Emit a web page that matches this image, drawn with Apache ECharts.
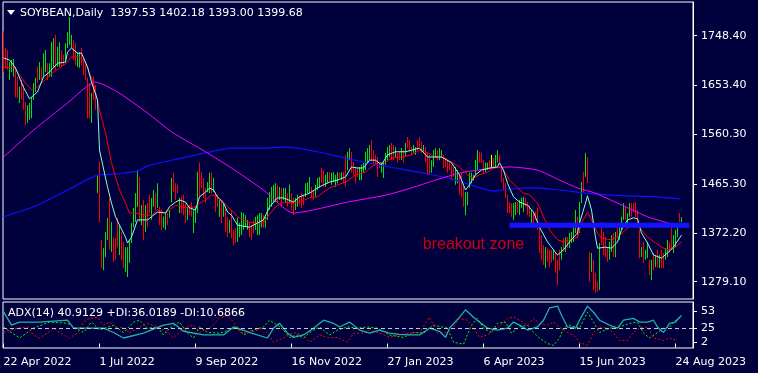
<!DOCTYPE html>
<html><head><meta charset="utf-8">
<script src="https://cdn.jsdelivr.net/npm/echarts@6/dist/echarts.min.js"></script>
<style>html,body{margin:0;padding:0;background:#00003c;}#c{width:758px;height:373px;}</style>
</head><body><div id="c"></div>
<script>
// ---- DATA ----
const barHigh = [
1757,1725,1721,1698,1702,1704,1689,1670,1651,1664,
1654,1622,1616,1620,1631,1658,1668,1689,1698,1689,
1715,1721,1696,1696,1736,1744,1750,1727,1736,1721,
1712,1734,1755,1784,1750,1740,1734,1717,1717,1725,
1706,1696,1668,1658,1639,1670,1654,1483,1509,1359,
1343,1374,1401,1439,1393,1364,1362,1401,1387,1374,
1355,1345,1345,1359,1391,1420,1448,1492,1479,1425,
1435,1425,1429,1445,1439,1454,1448,1467,1422,1416,
1403,1412,1410,1416,1477,1487,1467,1464,1439,1441,
1445,1429,1422,1425,1431,1416,1422,1488,1507,1488,
1477,1458,1469,1487,1488,1477,1450,1445,1435,1435,
1429,1422,1403,1397,1416,1378,1382,1401,1391,1412,
1410,1406,1397,1391,1387,1397,1403,1406,1410,1410,
1406,1403,1439,1450,1460,1464,1467,1464,1460,1458,
1458,1458,1448,1464,1448,1439,1439,1445,1441,1448,
1445,1467,1469,1479,1460,1454,1464,1477,1479,1496,
1492,1483,1488,1488,1487,1488,1483,1488,1487,1488,
1488,1521,1527,1534,1527,1507,1498,1498,1498,1502,
1506,1527,1534,1540,1549,1530,1521,1517,1507,1506,
1507,1525,1536,1540,1544,1540,1536,1525,1527,1534,
1530,1544,1555,1549,1536,1540,1536,1549,1555,1546,
1540,1536,1525,1521,1511,1530,1534,1530,1534,1530,
1521,1515,1511,1507,1502,1498,1498,1492,1483,1487,
1464,1450,1450,1487,1487,1483,1511,1530,1527,1525,
1511,1506,1506,1511,1521,1515,1521,1530,1521,1498,
1477,1467,1445,1431,1429,1429,1431,1431,1435,1439,
1441,1439,1431,1425,1416,1410,1412,1420,1387,1368,
1349,1345,1343,1340,1340,1340,1334,1321,1340,1345,
1362,1364,1364,1372,1374,1391,1416,1403,1431,1469,
1488,1525,1517,1336,1334,1321,1296,1279,1353,1393,
1374,1364,1345,1355,1368,1372,1374,1391,1391,1403,
1429,1422,1410,1429,1429,1429,1431,1416,1378,1345,
1355,1340,1355,1321,1321,1334,1330,1340,1330,1340,
1334,1343,1359,1355,1383,1368,1378,1391,1410,1402
];
const barLow = [
1679,1689,1683,1664,1679,1670,1631,1630,1620,1626,
1607,1578,1582,1588,1591,1626,1641,1658,1664,1664,
1670,1679,1664,1670,1670,1689,1683,1689,1689,1689,
1692,1698,1725,1731,1725,1702,1692,1689,1687,1692,
1673,1664,1591,1591,1582,1626,1607,1448,1393,1305,
1301,1326,1359,1340,1336,1317,1321,1345,1330,1321,
1305,1298,1288,1315,1353,1383,1393,1422,1393,1387,
1359,1374,1383,1410,1397,1422,1416,1420,1387,1378,
1382,1378,1387,1401,1431,1450,1435,1448,1410,1410,
1406,1391,1397,1406,1403,1372,1391,1410,1441,1458,
1439,1429,1450,1448,1448,1450,1412,1422,1403,1391,
1403,1374,1364,1372,1362,1349,1353,1355,1364,1368,
1378,1383,1378,1364,1359,1372,1378,1368,1368,1383,
1382,1382,1397,1416,1422,1429,1431,1429,1435,1422,
1435,1429,1422,1429,1416,1406,1416,1422,1425,1420,
1425,1441,1448,1448,1439,1435,1441,1454,1458,1467,
1460,1460,1467,1469,1464,1469,1460,1467,1477,1473,
1467,1460,1492,1511,1487,1483,1467,1479,1473,1473,
1487,1492,1506,1511,1511,1502,1502,1479,1496,1487,
1477,1502,1511,1517,1511,1511,1517,1507,1511,1511,
1506,1517,1534,1527,1521,1525,1521,1530,1536,1525,
1527,1507,1483,1483,1487,1498,1515,1511,1511,1517,
1496,1498,1487,1492,1473,1479,1464,1467,1445,1441,
1422,1406,1425,1458,1467,1473,1483,1492,1506,1506,
1487,1488,1492,1496,1498,1496,1496,1507,1506,1469,
1454,1439,1410,1410,1403,1397,1406,1410,1406,1420,
1412,1422,1406,1403,1383,1383,1397,1378,1334,1321,
1311,1305,1317,1307,1315,1321,1296,1273,1301,1321,
1336,1336,1343,1343,1353,1355,1372,1362,1372,1429,
1450,1479,1467,1279,1298,1263,1258,1260,1263,1349,
1330,1326,1317,1321,1336,1326,1326,1364,1359,1378,
1397,1397,1387,1403,1403,1412,1403,1383,1324,1326,
1315,1321,1324,1292,1282,1301,1307,1307,1305,1305,
1305,1321,1326,1334,1340,1334,1345,1364,1393,1393
];
// r = down bar, g = up bar, y = unchanged
const barDir = (
"rrrgggrrgr"+"rrgggggrgr"+"ggrgggrggr"+"rggggrrggr"+"rrrrgrrgrr"+
"gggrgrrrgr"+"rgggggggrg"+"rgrrggrgrr"+"ggrggrrrgr"+"rrgrrgggrr"+
"rrggrgrrgr"+"grrgrrrggg"+"gggrrrgggg"+"rggggggrgr"+"ggrgrrggrr"+
"rgggrrgggr"+"rggrggggrg"+"rrggrrrrgg"+"ggggrrrrrg"+"ggggrrgrrg"+
"rgrrrggrrr"+"grrrgggrgg"+"rrrrrrggrr"+"rgggggggrr"+"rggryrggrr"+
"rrrrrggrgg"+"grrrgrrrrr"+"rgrrrgrrrg"+"rgrggggrgg"+"rgrrgrrrgr"+
"rrrggrgrgg"+"grggrrrrrg"+"rggrgrgrgr"+"rggrrgggrg").split("");

const maFast = [[0,1706],[3,1702],[6,1687],[10,1650],[13,1628],[17,1641],[20,1670],[23,1679],[27,1696],[31,1698],[32,1717],[34,1725],[37,1715],[39,1715],[42,1689],[44,1660],[47,1626],[48,1530],[52,1460],[54,1429],[56,1403],[58,1387],[61,1364],[62,1353],[64,1364],[67,1397],[69,1397],[72,1397],[74,1403],[77,1412],[81,1410],[83,1422],[86,1431],[88,1435],[91,1431],[93,1420],[96,1416],[98,1441],[101,1450],[103,1458],[105,1454],[107,1441],[110,1429],[112,1412],[114,1406],[117,1387],[123,1383],[127,1391],[130,1397],[133,1422],[137,1439],[140,1439],[145,1431],[148,1441],[153,1448],[157,1458],[160,1464],[163,1469],[167,1473],[171,1479],[174,1498],[177,1496],[180,1496],[183,1511],[186,1511],[189,1502],[192,1521],[196,1527],[201,1527],[204,1530],[208,1534],[212,1517],[216,1517],[219,1517],[224,1506],[228,1483],[231,1454],[233,1464],[236,1483],[239,1492],[243,1496],[247,1498],[248,1506],[250,1492],[252,1467],[255,1441],[258,1431],[262,1425],[265,1412],[268,1383],[272,1355],[275,1340],[277,1330],[280,1340],[283,1355],[287,1372],[288,1391],[291,1429],[292,1443],[294,1416],[296,1364],[297,1343],[301,1345],[304,1343],[307,1355],[309,1378],[312,1397],[315,1401],[317,1399],[319,1372],[322,1353],[325,1330],[329,1324],[332,1334],[335,1345],[339,1368]];
const maSlow = [[0,1687],[5,1689],[7,1679],[11,1658],[14,1645],[17,1651],[22,1668],[25,1679],[29,1689],[32,1698],[34,1708],[38,1708],[41,1696],[43,1677],[45,1658],[48,1607],[51,1563],[54,1506],[56,1479],[58,1454],[61,1429],[63,1410],[66,1410],[67,1412],[71,1406],[74,1406],[77,1416],[81,1410],[83,1416],[86,1425],[89,1422],[92,1420],[96,1422],[98,1429],[101,1435],[104,1445],[106,1443],[109,1435],[112,1422],[114,1416],[117,1403],[122,1393],[127,1391],[130,1391],[132,1403],[136,1422],[140,1431],[145,1429],[148,1431],[153,1439],[157,1441],[160,1450],[163,1458],[167,1464],[171,1469],[176,1483],[181,1488],[184,1498],[187,1506],[191,1507],[194,1515],[199,1517],[204,1521],[208,1530],[212,1525],[216,1517],[221,1515],[224,1507],[228,1498],[232,1483],[235,1477],[238,1483],[242,1488],[245,1496],[248,1498],[251,1487],[253,1473],[257,1458],[260,1448],[263,1445],[267,1429],[270,1403],[273,1378],[277,1359],[280,1355],[283,1359],[287,1364],[289,1391],[292,1412],[294,1397],[297,1372],[299,1362],[304,1359],[307,1364],[311,1378],[314,1387],[317,1387],[319,1378],[322,1364],[326,1353],[329,1345],[332,1340],[336,1345],[339,1355]];
const maMid = [[0,1517],[15,1568],[32,1620],[46,1660],[57,1641],[72,1601],[84,1565],[101,1527],[114,1496],[130,1454],[145,1410],[155,1416],[172,1431],[191,1444],[204,1458],[216,1473],[229,1487],[245,1496],[253,1498],[267,1492],[278,1473],[287,1458],[296,1448],[311,1422],[322,1403],[334,1389],[339,1383]];
const maLong = [[0,1403],[15,1422],[32,1454],[46,1481],[57,1485],[67,1490],[72,1500],[89,1515],[101,1525],[114,1534],[130,1534],[139,1536],[147,1534],[157,1527],[172,1514],[187,1502],[196,1496],[212,1485],[226,1473],[245,1452],[253,1456],[265,1458],[278,1454],[287,1450],[296,1446],[311,1443],[327,1441],[338,1437]];

const zoneLevel = 1386.7, zoneFrom = 253, zoneTo = 343;
const zoneNote = {text: "breakout zone", x: 235, price: 1350};
const lastClose = 1399.68;
const priceTicks = [1279.10, 1372.20, 1465.30, 1560.30, 1653.40, 1748.40];

const adxLine = [[0,52],[4,30],[8,35],[18,35],[32,38],[35,25],[50,25],[55,18],[60,9],[70,17],[80,30],[85,33],[90,20],[100,14],[110,14],[115,27],[124,17],[132,9],[135,25],[138,33],[142,17],[145,10],[150,14],[155,25],[160,38],[165,33],[168,27],[173,35],[178,22],[183,17],[188,22],[193,17],[198,15],[203,14],[208,14],[213,25],[218,20],[221,10],[223,25],[228,43],[231,55],[235,43],[238,35],[242,25],[247,22],[252,25],[255,35],[258,30],[262,22],[267,27],[270,38],[273,58],[277,61],[279,46],[282,27],[286,25],[288,38],[292,61],[295,51],[298,38],[303,30],[307,25],[310,38],[315,41],[318,35],[322,35],[325,38],[327,27],[330,18],[333,33],[336,35],[339,46]];
const plusDI = [[0,27],[8,9],[15,25],[23,35],[32,33],[40,18],[44,35],[48,22],[55,30],[60,18],[65,35],[68,38],[72,25],[77,27],[80,14],[83,25],[88,35],[92,17],[95,9],[98,27],[102,18],[108,17],[113,22],[117,27],[120,14],[125,22],[130,27],[133,38],[137,30],[140,22],[143,10],[147,14],[150,9],[153,18],[158,27],[163,14],[167,22],[172,27],[177,25],[182,27],[187,25],[193,14],[200,10],[205,18],[210,17],[215,30],[222,25],[225,2],[230,-1],[234,30],[237,41],[240,25],[244,18],[247,33],[251,35],[254,17],[258,27],[262,30],[265,18],[268,9],[272,0],[275,-3],[278,9],[280,25],[283,30],[288,25],[292,51],[295,35],[298,18],[303,25],[308,27],[313,33],[317,35],[320,17],[323,9],[327,18],[330,25],[333,27],[337,41],[339,44]];
const minusDI = [[0,18],[7,25],[12,27],[15,14],[18,9],[22,17],[25,25],[28,18],[33,9],[37,17],[40,35],[43,41],[47,43],[50,30],[53,35],[57,25],[60,27],[63,17],[67,25],[72,33],[77,27],[82,18],[85,9],[90,25],[95,30],[98,18],[103,25],[108,41],[112,46],[115,35],[118,18],[122,17],[127,22],[130,25],[135,2],[140,9],[145,18],[150,14],[153,2],[158,14],[163,9],[167,10],[172,2],[175,17],[180,17],[183,22],[188,17],[193,10],[198,14],[203,17],[208,18],[213,43],[217,17],[222,18],[225,27],[228,41],[232,38],[235,25],[238,10],[242,14],[247,25],[252,41],[255,43],[258,38],[262,30],[265,41],[268,33],[272,30],[275,35],[278,27],[282,18],[285,14],[288,2],[292,-3],[295,18],[298,27],[302,25],[305,17],[308,5],[312,5],[315,18],[318,25],[322,27],[325,9],[330,5],[333,9],[337,4]];
const adxLevel = 25;
const adxTicks = [2, 25, 53];

const dateTickIdx = [0, 48, 96, 144, 192, 240, 288, 336];
const dateLabels = ["22 Apr 2022","1 Jul 2022","9 Sep 2022","16 Nov 2022","27 Jan 2023","6 Apr 2023","15 Jun 2023","24 Aug 2023"];

const titleText = "SOYBEAN,Daily  1397.53 1402.18 1393.00 1399.68";
const adxText = "ADX(14) 40.9129 +DI:36.0189 -DI:10.6866";

// ---- CHART ----
const FONT = "DejaVu Sans";
const chart = echarts.init(document.getElementById("c"), null, {renderer: "canvas"});
const xMin = -0.25, xMax = 344.75;

// each bar = vertical segment low->high, broken by a gap point
function barSegments(code) {
  const out = [];
  barHigh.forEach((h, i) => {
    if (barDir[i] === code) { out.push([i, barLow[i]], [i, h], [i, "-"]); }
  });
  return out;
}
function barSeries(code, color) {
  return {type: "line", xAxisIndex: 0, yAxisIndex: 0, data: barSegments(code), showSymbol: false, symbol: "none",
    connectNulls: false, silent: true, z: 2, sampling: null, lineStyle: {color: color, width: 1}};
}

chart.setOption({
  animation: false,
  backgroundColor: "#00003c",
  textStyle: {fontFamily: FONT},
  title: [
    {text: titleText, left: 20, top: 8, padding: 0, textStyle: {color: "#ffffff", fontSize: 11, fontWeight: "normal", fontFamily: FONT}},
    {text: adxText, left: 8, top: 308, padding: 0, textStyle: {color: "#ffffff", fontSize: 11, fontWeight: "normal", fontFamily: FONT}}
  ],
  graphic: [
    {type: "polygon", silent: true, shape: {points: [[7, 10], [15, 10], [11, 15]]}, style: {fill: "#ffffff"}}
  ],
  grid: [
    {left: 3, top: 2, width: 690, height: 297, show: true, borderColor: "#ffffff", borderWidth: 1, containLabel: false},
    {left: 3, top: 302, width: 690, height: 46, show: true, borderColor: "#ffffff", borderWidth: 1, containLabel: false}
  ],
  xAxis: [
    {type: "value", gridIndex: 0, min: xMin, max: xMax, show: false},
    {type: "value", gridIndex: 1, min: xMin, max: xMax,
      axisLine: {show: false}, splitLine: {show: false},
      axisTick: {show: true, inside: false, length: 4, lineStyle: {color: "#ffffff"}, customValues: dateTickIdx},
      axisLabel: {show: true, customValues: dateTickIdx, color: "#ffffff", fontSize: 11, fontFamily: FONT, align: "left", margin: 9,
        formatter: v => dateLabels[dateTickIdx.indexOf(Math.round(v))] || ""}}
  ],
  yAxis: [
    {type: "value", gridIndex: 0, position: "right", min: 1246.1, max: 1812.7,
      axisLine: {show: true, onZero: false, lineStyle: {color: "#ffffff"}}, splitLine: {show: false},
      axisTick: {show: true, inside: false, length: 4, lineStyle: {color: "#ffffff"}, customValues: priceTicks},
      axisLabel: {show: true, customValues: priceTicks, color: "#ffffff", fontSize: 11, fontFamily: FONT, margin: 8, formatter: v => v.toFixed(2)}},
    {type: "value", gridIndex: 1, position: "right", min: -7.3, max: 67.7,
      axisLine: {show: true, onZero: false, lineStyle: {color: "#ffffff"}}, splitLine: {show: false},
      axisTick: {show: true, inside: false, length: 4, lineStyle: {color: "#ffffff"}, customValues: adxTicks},
      axisLabel: {show: true, customValues: adxTicks, color: "#ffffff", fontSize: 11, fontFamily: FONT, margin: 8, formatter: v => String(Math.round(v))}}
  ],
  series: [
    barSeries("r", "#ff0000"),
    barSeries("g", "#00e600"),
    barSeries("y", "#ffff00"),
    {type: "line", name: "MA long", xAxisIndex: 0, yAxisIndex: 0, data: maLong, showSymbol: false, symbol: "none", z: 3,
      lineStyle: {color: "#1010ff", width: 1.2}, smooth: 0.2},
    {type: "line", name: "MA mid", xAxisIndex: 0, yAxisIndex: 0, data: maMid, showSymbol: false, symbol: "none", z: 3,
      lineStyle: {color: "#ff00ff", width: 1}, smooth: 0.2},
    {type: "line", name: "MA slow", xAxisIndex: 0, yAxisIndex: 0, data: maSlow, showSymbol: false, symbol: "none", z: 4,
      lineStyle: {color: "#ff0000", width: 1}},
    {type: "line", name: "MA fast", xAxisIndex: 0, yAxisIndex: 0, data: maFast, showSymbol: false, symbol: "none", z: 5,
      lineStyle: {color: "#8cffd8", width: 1}},
    {type: "line", name: "zone", xAxisIndex: 0, yAxisIndex: 0, data: [[zoneFrom, zoneLevel], [zoneTo, zoneLevel]],
      showSymbol: false, symbol: "none", z: 6, lineStyle: {color: "#1414ff", width: 5, cap: "butt"},
      markLine: {silent: true, symbol: ["none", "none"], animation: false,
        lineStyle: {opacity: 0},
        label: {show: true, position: "end", distance: 3, formatter: lastClose.toFixed(2), color: "#000000",
          backgroundColor: "#ffffff", padding: [1, 4, 0, 5], fontSize: 11, fontFamily: FONT, lineHeight: 11},
        data: [{yAxis: lastClose}]}},
    {type: "scatter", xAxisIndex: 0, yAxisIndex: 0, data: [[zoneNote.x, zoneNote.price]], symbolSize: 1,
      itemStyle: {color: "rgba(0,0,0,0)"}, z: 7,
      label: {show: true, position: "inside", formatter: zoneNote.text, color: "#ff0000", fontSize: 16, fontFamily: "Liberation Sans"}},
    {type: "line", name: "+DI", xAxisIndex: 1, yAxisIndex: 1, data: plusDI, showSymbol: false, symbol: "none", z: 3,
      lineStyle: {color: "#00ff00", width: 1, type: [2, 2]}},
    {type: "line", name: "-DI", xAxisIndex: 1, yAxisIndex: 1, data: minusDI, showSymbol: false, symbol: "none", z: 3,
      lineStyle: {color: "#ff0000", width: 1, type: [2, 2]}},
    {type: "line", name: "ADX", xAxisIndex: 1, yAxisIndex: 1, data: adxLine, showSymbol: false, symbol: "none", z: 4,
      lineStyle: {color: "#20b2aa", width: 1.3},
      markLine: {silent: true, symbol: ["none", "none"], label: {show: false},
        lineStyle: {color: "#c8c8c8", width: 1, type: [4, 3]}, data: [{yAxis: adxLevel}]}}
  ]
});
</script>
</body></html>
